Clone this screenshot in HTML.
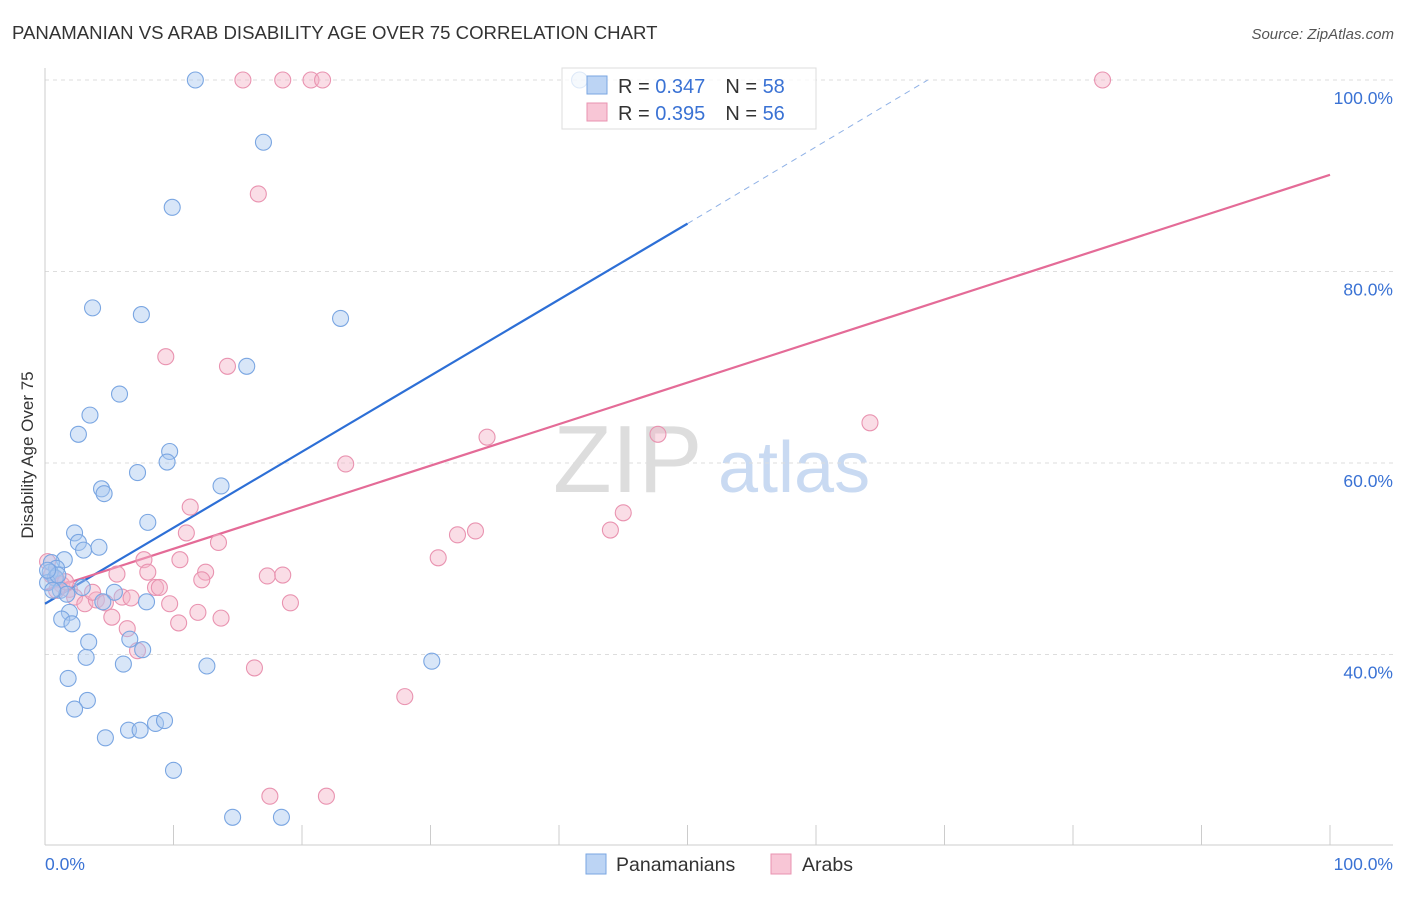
<!DOCTYPE html>
<html><head><meta charset="utf-8"><style>
body{margin:0;background:#fff;font-family:"Liberation Sans",sans-serif}
svg text{font-family:"Liberation Sans",sans-serif}
</style></head><body>
<svg id="chart" width="1406" height="892" xmlns="http://www.w3.org/2000/svg">
<text x="12" y="39" font-size="18.6" fill="#333">PANAMANIAN VS ARAB DISABILITY AGE OVER 75 CORRELATION CHART</text>
<text x="1394" y="39" font-size="15" fill="#555" font-style="italic" text-anchor="end">Source: ZipAtlas.com</text>
<g>
<text x="553" y="492" font-size="96" fill="#ddd" font-family="Liberation Serif,serif">ZIP</text>
<text x="718" y="492" font-size="72" fill="#c9daf2">atlas</text>
</g>
<g id="grid"></g>
<g id="axes"></g>
<g id="trend"></g>
<g id="pts"></g>
<text x="33" y="455" font-size="17" fill="#333" text-anchor="middle" transform="rotate(-90 33 455)">Disability Age Over 75</text>
<g>
<rect x="562" y="68" width="254" height="61" fill="#fff" fill-opacity="0.75" stroke="#ddd"/>
<rect x="587" y="76" width="20" height="18" fill="#bcd4f4" stroke="#7aa6e2"/>
<rect x="587" y="103" width="20" height="18" fill="#f8c6d6" stroke="#e993b0"/>
<text x="618" y="93" font-size="20" fill="#333">R = <tspan fill="#3a72d4">0.347</tspan><tspan dx="20">N = </tspan><tspan fill="#3a72d4">58</tspan></text>
<text x="618" y="120" font-size="20" fill="#333">R = <tspan fill="#3a72d4">0.395</tspan><tspan dx="20">N = </tspan><tspan fill="#3a72d4">56</tspan></text>
</g>
<g>
<rect x="586" y="854" width="20" height="20" fill="#bcd4f4" stroke="#7aa6e2"/>
<text x="616" y="871" font-size="19.5" fill="#333">Panamanians</text>
<rect x="771" y="854" width="20" height="20" fill="#f8c6d6" stroke="#e993b0"/>
<text x="802" y="871" font-size="19.5" fill="#333">Arabs</text>
</g>
</svg>
<script>
const blueX=[11.7,17.0,9.9,3.7,7.5,23.0,15.7,5.8,3.5,2.6,9.7,9.5,7.2,13.7,4.4,4.6,8.0,2.3,2.6,4.2,3.0,1.5,0.5,0.9,0.4,0.8,0.2,1.2,1.7,2.9,5.4,4.5,7.9,1.9,1.3,2.1,3.4,6.6,7.6,3.2,6.1,12.6,30.1,1.8,3.3,2.3,4.7,6.5,7.4,8.6,9.3,10.0,14.6,18.4,41.6,0.6,1.0,0.2];
const blueY=[100,93.5,86.7,76.2,75.5,75.1,70.1,67.2,65.0,63.0,61.2,60.1,59.0,57.6,57.3,56.8,53.8,52.7,51.7,51.2,50.9,49.9,49.6,49.0,48.6,48.0,47.5,46.7,46.3,47.0,46.5,45.5,45.5,44.4,43.7,43.2,41.3,41.6,40.5,39.7,39.0,38.8,39.3,37.5,35.2,34.3,31.3,32.1,32.1,32.8,33.1,27.9,23.0,23.0,100,46.7,48.3,48.8];
const pinkX=[15.4,18.5,20.7,21.6,82.3,16.6,9.4,14.2,34.4,47.7,64.2,23.4,11.3,11.0,45.0,44.0,33.5,32.1,13.5,30.6,7.7,10.5,5.6,8.0,12.5,12.2,17.3,18.5,8.6,8.9,0.2,0.5,0.9,1.3,1.9,2.3,3.1,4.0,4.7,6.0,6.7,9.7,11.9,10.4,13.7,5.2,6.4,7.2,16.3,19.1,28.0,17.5,21.9,0.9,1.6,3.7];
const pinkY=[100,100,100,100,100,88.1,71.1,70.1,62.7,63.0,64.2,59.9,55.4,52.7,54.8,53.0,52.9,52.5,51.7,50.1,49.9,49.9,48.4,48.6,48.6,47.8,48.2,48.3,47.0,47.0,49.7,48.3,47.8,47.3,46.8,46.0,45.3,45.7,45.4,46.0,45.9,45.3,44.4,43.3,43.8,43.9,42.7,40.4,38.6,45.4,35.6,25.2,25.2,46.7,47.6,46.5];
const yTicks=[100,80,60,40];
const yTickLabels=["100.0%","80.0%","60.0%","40.0%"];
const blueTrend=[[0,45.3],[50,85.0]];
const blueDash=[[50,85.0],[68.7,100]];
const pinkTrend=[[0,46.7],[100,90.1]];
const NS="http://www.w3.org/2000/svg";
const X=v=>45+v*12.85, Y=v=>80+(100-v)*9.575;
function mk(t,a,p){const e=document.createElementNS(NS,t);for(const k in a)e.setAttribute(k,a[k]);p.appendChild(e);return e;}
const grid=document.getElementById('grid'),axes=document.getElementById('axes'),tr=document.getElementById('trend'),pts=document.getElementById('pts');
yTicks.forEach((v,i)=>{
 const l=mk('line',{x1:45,x2:1393,y1:Y(v),y2:Y(v),stroke:'#ddd','stroke-dasharray':'4,4'},grid);
 
 
 const t=mk('text',{x:1393,y:Y(v)+24,'font-size':17.5,fill:'#3a72d4','text-anchor':'end'},axes);
 t.textContent=yTickLabels[i];
 
 
});
mk('line',{x1:45,x2:45,y1:68,y2:845,stroke:'#ccc'},axes);
mk('line',{x1:45,x2:1393,y1:845,y2:845,stroke:'#ccc'},axes);
for(let i=0;i<=10;i++){const tk=mk('line',{x1:X(i*10),x2:X(i*10),y1:825,y2:845,stroke:'#ccc'},axes);
 
 }
let t0=mk('text',{x:45,y:870,'font-size':17.5,fill:'#3a72d4'},axes);t0.textContent="0.0%";


let t1=mk('text',{x:1393,y:870,'font-size':17.5,fill:'#3a72d4','text-anchor':'end'},axes);t1.textContent="100.0%";


function pt(xs,ys,fill,stroke,name){xs.forEach((x,i)=>{const c=mk('circle',{cx:X(x),cy:Y(ys[i]),r:8,fill:fill,'fill-opacity':0.45,stroke:stroke,'stroke-width':1.1},pts);
 
 });}
pt(pinkX,pinkY,'#f5b3c8','#e993b0','arab-point');
pt(blueX,blueY,'#a9c8f0','#7aa6e2','panamanian-point');
let b=mk('line',{x1:X(blueTrend[0][0]),y1:Y(blueTrend[0][1]),x2:X(blueTrend[1][0]),y2:Y(blueTrend[1][1]),stroke:'#2d6fd6','stroke-width':2.2},tr);


let bd=mk('line',{x1:X(blueDash[0][0]),y1:Y(blueDash[0][1]),x2:X(blueDash[1][0]),y2:Y(blueDash[1][1]),stroke:'#8fb1e6','stroke-width':1,'stroke-dasharray':'6,5'},tr);


let p=mk('line',{x1:X(pinkTrend[0][0]),y1:Y(pinkTrend[0][1]),x2:X(pinkTrend[1][0]),y2:Y(pinkTrend[1][1]),stroke:'#e46b97','stroke-width':2.2},tr);


</script>
</body></html>
